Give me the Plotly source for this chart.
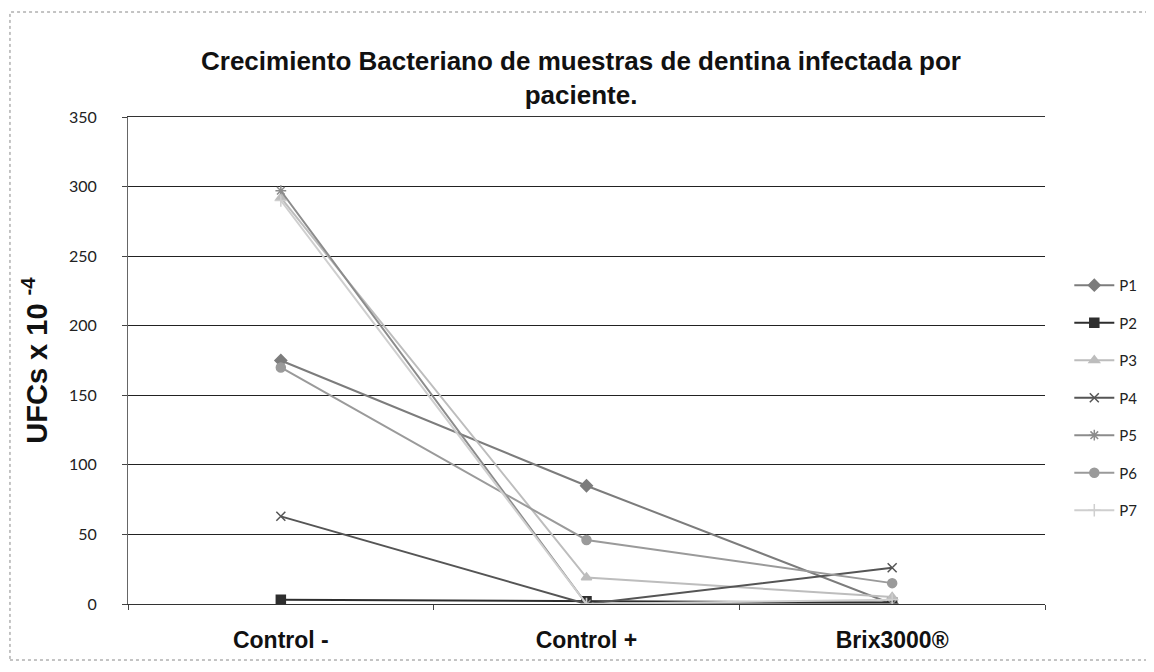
import plotly.graph_objects as go

categories = ["Control -", "Control +", "Brix3000®"]
series_names = ["P1", "P2", "P3", "P4", "P5", "P6", "P7"]
P1 = [175, 85, 0]
P2 = [3, 2, 1]
P3 = [292, 19, 5]
P4 = [63, 0, 26]
P5 = [297, 0, 0]
P6 = [170, 46, 15]
P7 = [290, 0, 3]
values = [P1, P2, P3, P4, P5, P6, P7]

colors = ["#7c7c7c", "#2e2e2e", "#bdbdbd", "#555555", "#8c8c8c", "#9a9a9a", "#cfcfcf"]
symbols = ["diamond", "square", "triangle-up", "x-thin-open", "asterisk-open", "circle", "cross-thin-open"]

fig = go.Figure()
for i, (name, vals) in enumerate(zip(series_names, values)):
    fig.add_trace(go.Scatter(
        x=categories, y=vals, name=name, mode="lines+markers",
        line=dict(color=colors[i], width=2),
        marker=dict(symbol=symbols[i], size=9, color=colors[i],
                    line=dict(color=colors[i], width=1.5)),
        legendgroup=name,
    ))

fig.update_layout(
    width=1146, height=664,
    margin=dict(l=120, r=109, t=109, b=68, autoexpand=False),
    paper_bgcolor="white", plot_bgcolor="white",
    title=dict(
        text="<b>Crecimiento Bacteriano de muestras de dentina infectada por<br>paciente.</b>",
        x=0.5, xanchor="center", y=0.907, yanchor="top",
        font=dict(family="Liberation Sans, Arial", size=26, color="#111111"),
    ),
    legend=dict(
        x=1.0265, xanchor="left", y=0.688, yanchor="top",
        font=dict(family="Lato, Open Sans", size=15, color="#222222"),
        tracegroupgap=15, itemwidth=40,
        bgcolor="rgba(0,0,0,0)",
    ),
    showlegend=True,
)
fig.update_xaxes(
    type="category", range=[-0.5, 2.5], showgrid=False, showline=True,
    linecolor="#333333", linewidth=1, mirror=True,
    ticks="outside", tickson="boundaries", ticklen=5, tickcolor="#444444",
    ticklabelstandoff=15,
    tickfont=dict(family="Liberation Sans, Arial", size=23, color="#111111"),
    tickprefix="<b>", ticksuffix="</b>",
)
fig.update_yaxes(
    range=[0, 350], dtick=50, showgrid=True, gridcolor="#222222", gridwidth=1,
    showline=True, linecolor="#666666", linewidth=1,
    ticks="outside", ticklen=5, tickcolor="#444444", zeroline=False,
    ticklabelstandoff=22,
    tickfont=dict(family="Lato, Open Sans", size=16, color="#222222"),
    title=dict(text="<b>UFCs x 10 <sup>-4</sup></b>", standoff=12,
               font=dict(family="Liberation Sans, Arial", size=29, color="#111111")),
)

fig.add_shape(type="rect", xref="paper", yref="paper",
              x0=-0.1287, x1=1.1167, y0=-0.115, y1=1.2156,
              line=dict(color="#888888", width=1, dash="dot"))

fig.write_html("out.html")
